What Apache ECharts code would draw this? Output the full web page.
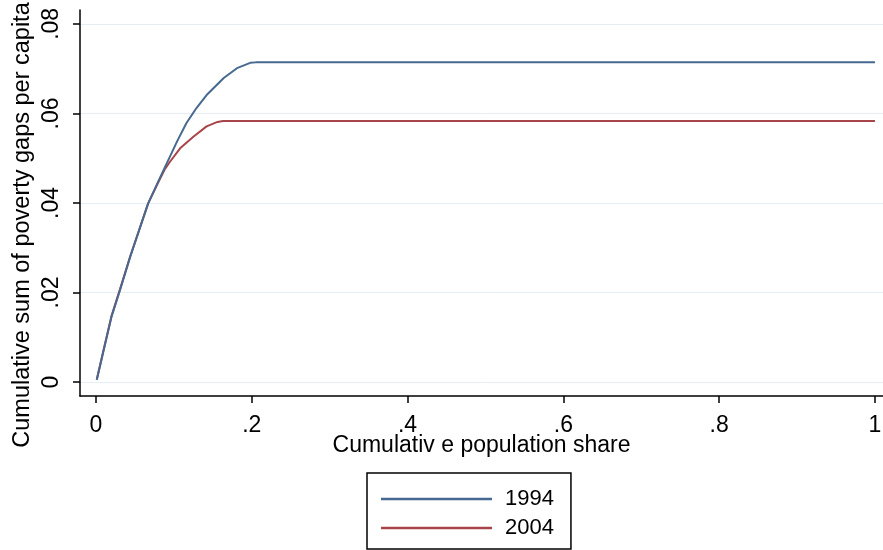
<!DOCTYPE html>
<html>
<head>
<meta charset="utf-8">
<script src="https://cdn.jsdelivr.net/npm/echarts@6/dist/echarts.min.js"></script>
<style>html,body{margin:0;padding:0;background:#fff;}#c{width:883px;height:550px;}</style>
</head>
<body>
<div id="c"></div>
<script>
// Data
const xTicks = [0, 0.2, 0.4, 0.6, 0.8, 1];
const yTicks = [0, 0.02, 0.04, 0.06, 0.08];
const xTickLabels = ['0', '.2', '.4', '.6', '.8', '1'];
const yTickLabels = ['0', '.02', '.04', '.06', '.08'];
const seriesNames = ['1994', '2004'];
const x1994 = [0.001, 0.009, 0.020, 0.031, 0.044, 0.057, 0.067, 0.080, 0.091, 0.104, 0.116, 0.129, 0.142, 0.164, 0.181, 0.198, 0.205, 1.0];
const y1994 = [0.0005, 0.0064, 0.0146, 0.0206, 0.0280, 0.0347, 0.0399, 0.0448, 0.0489, 0.0537, 0.0578, 0.0612, 0.0641, 0.0679, 0.0701, 0.0713, 0.0714, 0.0714];
const x2004 = [0.001, 0.009, 0.020, 0.031, 0.044, 0.057, 0.067, 0.080, 0.088, 0.095, 0.108, 0.125, 0.142, 0.156, 0.163, 1.0];
const y2004 = [0.0005, 0.0066, 0.0148, 0.0208, 0.0281, 0.0348, 0.0399, 0.0446, 0.0474, 0.0492, 0.0522, 0.0548, 0.0571, 0.0581, 0.0583, 0.0583];
const xTitle = 'Cumulativ e population share';
const yTitle = 'Cumulative sum of poverty gaps per capita';

const pairs = (xs, ys) => xs.map((v, i) => [v, ys[i]]);
const FONT = 'Liberation Sans';
const NARROW = '"Liberation Sans Narrow", "Liberation Sans"';
const chart = echarts.init(document.getElementById('c'), null, {renderer: 'canvas'});
chart.setOption({
  animation: false,
  backgroundColor: '#fff',
  grid: {left: 80, right: 0, top: 10, bottom: 154, containLabel: false, outerBoundsMode: 'none'},
  xAxis: {
    type: 'value', min: -0.0205, max: 1.0103,
    name: xTitle, nameLocation: 'middle', nameGap: 38, nameMoveOverlap: false,
    nameTextStyle: {fontFamily: FONT, fontSize: 23, color: '#000'},
    axisLine: {show: true, onZero: false, lineStyle: {color: '#000', width: 1.5}},
    axisTick: {show: true, length: 7, customValues: xTicks, lineStyle: {color: '#000', width: 1.5}},
    axisLabel: {customValues: xTicks, margin: 18, fontFamily: NARROW, fontSize: 23, color: '#000',
      formatter: v => xTickLabels[xTicks.findIndex(t => Math.abs(t - v) < 1e-9)]},
    splitLine: {show: false}
  },
  yAxis: {
    type: 'value', min: -0.00313, max: 0.0831,
    name: yTitle, nameLocation: 'middle', nameGap: 45, nameRotate: 90, nameMoveOverlap: false,
    nameTextStyle: {fontFamily: FONT, fontSize: 23.5, color: '#000', padding: [0, 44, 0, 0]},
    axisLine: {show: true, onZero: false, lineStyle: {color: '#000', width: 1.5}},
    axisTick: {show: true, length: 7, customValues: yTicks, lineStyle: {color: '#000', width: 1.5}},
    axisLabel: {customValues: yTicks, rotate: 90, margin: 17, fontFamily: NARROW, fontSize: 23, color: '#000',
      formatter: v => yTickLabels[yTicks.findIndex(t => Math.abs(t - v) < 1e-9)]},
    splitLine: {show: true, lineStyle: {color: '#e6edf4', width: 1}}
  },
  legend: {
    show: true, orient: 'vertical', left: 367, top: 473,
    data: seriesNames.map(n => ({name: n, icon: 'rect'})),
    borderColor: '#000', borderWidth: 1.5, borderRadius: 0,
    padding: [15, 17, 10, 14], itemGap: 7, itemWidth: 111, itemHeight: 2.5,
    textStyle: {fontFamily: FONT, fontSize: 22, color: '#000', padding: [0, 0, 0, 8]}
  },
  series: [
    {name: seriesNames[0], type: 'line', data: pairs(x1994, y1994), symbol: 'none', smooth: false,
     lineStyle: {color: '#46698f', width: 2}, itemStyle: {color: '#46698f'}, z: 3},
    {name: seriesNames[1], type: 'line', data: pairs(x2004, y2004), symbol: 'none', smooth: false,
     lineStyle: {color: '#a8454b', width: 2}, itemStyle: {color: '#a8454b'}, z: 2}
  ]
});
</script>
</body>
</html>
